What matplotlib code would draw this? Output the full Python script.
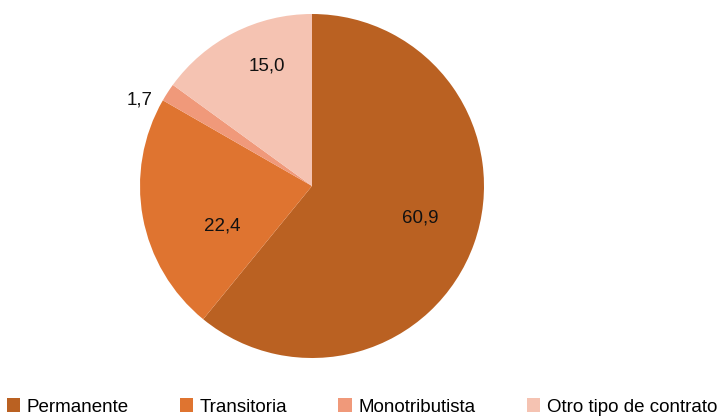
import numpy as np
import matplotlib.pyplot as plt
from matplotlib.patches import Patch

categories = ["Permanente", "Transitoria", "Monotributista", "Otro tipo de contrato"]
values = [60.9, 22.4, 1.7, 15.0]
colors = ["#BA6122", "#DF7430", "#F0997A", "#F5C3B2"]

# label placement: (radial fraction, angle offset in degrees) per wedge
label_pos = [(0.655, 3.0), (0.57, 13.5), (1.12, 6.5), (0.745, -6.5)]

plt.rcParams['font.family'] = ['Liberation Sans', 'DejaVu Sans']

W, H = 723, 417
fig = plt.figure(figsize=(W / 100, H / 100), dpi=100)
ax = fig.add_axes([0, 0, 1, 1])

cx, cy, r = 312, H - 186, 172
wedges, _ = ax.pie(values, colors=colors, startangle=90, counterclock=False,
                   center=(cx, cy), radius=r, frame=True,
                   wedgeprops=dict(linewidth=0))
ax.set_xlim(0, W)
ax.set_ylim(0, H)
ax.axis('off')

for w, v, (d, off) in zip(wedges, values, label_pos):
    mid = np.deg2rad((w.theta1 + w.theta2) / 2 + off)
    x = cx + d * r * np.cos(mid)
    y = cy + d * r * np.sin(mid)
    ax.text(x, y, f"{v:.1f}".replace(".", ","), ha='center', va='center',
            fontsize=13.5, color='#111111')

handles = [Patch(facecolor=c, edgecolor='none') for c in colors]
fig.legend(handles, categories, loc='center left', bbox_to_anchor=(0.009, 0.024),
           ncol=4, frameon=False, fontsize=13.5, handlelength=0.72,
           handleheight=0.72, handletextpad=0.35, columnspacing=2.72,
           borderaxespad=0, borderpad=0)

fig.savefig("out.png", dpi=100)
